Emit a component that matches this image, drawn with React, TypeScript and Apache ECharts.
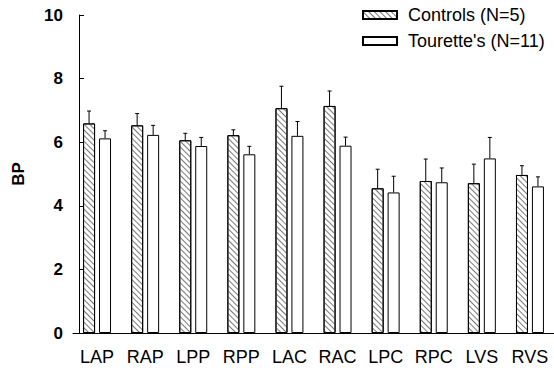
import React, { useEffect, useRef } from "react";
import * as echarts from "echarts";

const categories = ["LAP", "RAP", "LPP", "RPP", "LAC", "RAC", "LPC", "RPC", "LVS", "RVS"];
const controlsMean = [6.59, 6.53, 6.06, 6.22, 7.07, 7.14, 4.55, 4.78, 4.71, 4.97];
const controlsErr = [0.39, 0.37, 0.22, 0.17, 0.69, 0.47, 0.6, 0.69, 0.6, 0.29];
const touretteMean = [6.12, 6.23, 5.88, 5.62, 6.2, 5.89, 4.42, 4.74, 5.49, 4.61];
const touretteErr = [0.24, 0.3, 0.27, 0.25, 0.45, 0.27, 0.51, 0.45, 0.66, 0.3];
const yTicks = [0, 2, 4, 6, 8, 10];

const FONT = "'Liberation Sans', Arial, Helvetica, sans-serif";

function errorSeries(name: string, means: number[], errs: number[], dx: number) {
  return {
    type: "custom",
    name: name + "_err",
    z: 5,
    silent: true,
    data: means.map((m, i) => [i, m, errs[i]]),
    renderItem: (params: any, api: any) => {
      const i = api.value(0);
      const m = api.value(1);
      const e = api.value(2);
      const p0 = api.coord([i, m]);
      const p1 = api.coord([i, m + e]);
      const x = p0[0] + dx;
      return {
        type: "group",
        children: [
          { type: "line", shape: { x1: x, y1: p0[1], x2: x, y2: p1[1] }, style: { stroke: "#000", lineWidth: 1 } },
          { type: "line", shape: { x1: x - 2, y1: p1[1], x2: x + 2, y2: p1[1] }, style: { stroke: "#000", lineWidth: 1 } },
        ],
      };
    },
  };
}

export default function App() {
  const ref = useRef<HTMLDivElement>(null);
  useEffect(() => {
    document.body.style.margin = "0";
    const chart = echarts.init(ref.current!, undefined, { renderer: "svg" });
    chart.setOption({
      animation: false,
      backgroundColor: "#fff",
      textStyle: { fontFamily: FONT },
      legend: {
        orient: "vertical",
        left: 362,
        top: 6,
        padding: 0,
        itemWidth: 34,
        itemHeight: 8,
        itemGap: 8,
        icon: "rect",
        data: ["Controls (N=5)", "Tourette's (N=11)"],
        textStyle: { fontSize: 18, color: "#000", fontFamily: FONT, padding: [0, 0, 0, 6], lineHeight: 18 },
      },
      grid: { left: 73, top: 15, width: 482, bottom: 37 },
      xAxis: {
        type: "category",
        data: categories,
        axisLine: { lineStyle: { color: "#000", width: 1 } },
        axisTick: { show: false },
        axisLabel: { color: "#000", fontSize: 18, margin: 15, interval: 0, hideOverlap: false, fontFamily: FONT },
      },
      yAxis: {
        type: "value",
        min: 0,
        max: 10,
        interval: 2,
        offset: -6,
        name: "BP",
        nameLocation: "middle",
        nameRotate: 90,
        nameGap: 52,
        nameTextStyle: { fontSize: 17, fontWeight: "bold", color: "#000", fontFamily: FONT },
        axisLine: { show: true, lineStyle: { color: "#000", width: 1 } },
        axisTick: { show: true, inside: true, length: 5, lineStyle: { color: "#000" } },
        splitLine: { show: false },
        axisLabel: {
          color: "#000",
          fontSize: 17,
          fontWeight: "bold",
          margin: 16,
          fontFamily: FONT,
          formatter: (v: number) => (yTicks.includes(v) ? String(v) : ""),
        },
      },
      series: [
        {
          type: "bar",
          name: "Controls (N=5)",
          data: controlsMean,
          barWidth: 12,
          barGap: "33%",
          itemStyle: {
            color: "#fff",
            borderColor: "#000",
            borderWidth: 1,
            decal: {
              symbol: "rect",
              color: "#777",
              dashArrayX: [1, 0],
              dashArrayY: [1, 3],
              rotation: Math.PI / 4,
            },
          },
        },
        {
          type: "bar",
          name: "Tourette's (N=11)",
          data: touretteMean,
          barWidth: 12,
          itemStyle: { color: "#fff", borderColor: "#000", borderWidth: 1 },
        },
        errorSeries("c", controlsMean, controlsErr, -8),
        errorSeries("t", touretteMean, touretteErr, 8),
      ],
    });
    return () => chart.dispose();
  }, []);
  return <div ref={ref} style={{ position: "absolute", left: 0, top: 0, width: 554, height: 370 }} />;
}
